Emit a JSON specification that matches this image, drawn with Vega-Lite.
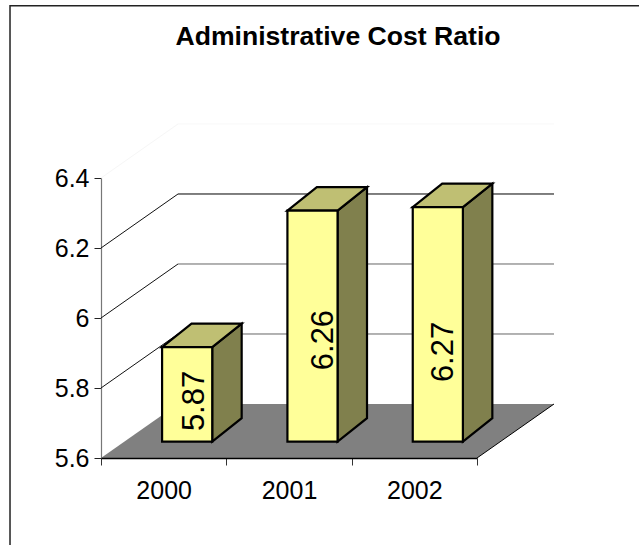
{
  "$schema": "https://vega.github.io/schema/vega-lite/v6.json",
  "width": 376,
  "height": 280,
  "padding": {"left": 101, "top": 178, "right": 162, "bottom": 87},
  "autosize": {"type": "none"},
  "background": "white",
  "title": {
    "text": "Administrative Cost Ratio",
    "anchor": "middle",
    "dx": 49,
    "offset": -67,
    "baseline": "alphabetic",
    "font": "Liberation Sans",
    "fontSize": 26.6,
    "fontWeight": "bold",
    "color": "#000"
  },
  "params": [
    {"name": "wallDX", "value": 0.6144},
    {"name": "wallDY", "value": 0.1543},
    {"name": "barDX", "value": 0.235},
    {"name": "barDY", "value": 0.0666},
    {"name": "inset", "value": 0.305}
  ],
  "config": {"view": {"stroke": null}, "axis": {"title": null, "grid": false}},
  "layer": [
    {
      "data": {"values": [{"edge": 1}]},
      "mark": {"type": "rect", "fillOpacity": 0, "stroke": "#222", "strokeWidth": 1.5},
      "encoding": {
        "x": {
          "datum": -0.726,
          "type": "quantitative",
          "scale": {"domain": [0, 3], "nice": false, "zero": false},
          "axis": {
            "title": null,
            "zindex": 1,
            "values": [0, 0.5, 1, 1.5, 2, 2.5, 3],
            "labelExpr": "datum.value % 1 === 0 ? '' : format(2000 + floor(datum.value), 'd')",
            "labelFont": "Liberation Sans",
            "labelFontSize": 25,
            "labelColor": "#000",
            "labelPadding": 13,
            "labelOverlap": false,
            "labelBound": false,
            "labelFlush": false,
            "grid": false,
            "tickSize": 7,
            "tickColor": "#333",
            "tickOpacity": {"condition": {"test": "datum.value % 1 === 0", "value": 1}, "value": 0},
            "domainColor": "#000",
            "domainWidth": 1.6
          }
        },
        "x2": {"datum": 6},
        "y": {
          "datum": 6.892,
          "type": "quantitative",
          "scale": {"domain": [5.6, 6.4], "nice": false, "zero": false},
          "axis": {
            "title": null,
            "values": [5.6, 5.8, 6, 6.2, 6.4],
            "format": "~g",
            "labelFont": "Liberation Sans",
            "labelFontSize": 25,
            "labelColor": "#000",
            "labelPadding": 5,
            "labelBound": false,
            "labelFlush": false,
            "grid": false,
            "tickSize": 7,
            "tickColor": "#222",
            "domainColor": "#777",
            "domainWidth": 1.2
          }
        },
        "y2": {"datum": 4}
      }
    },
    {
      "data": {"values": [{"depth": 0}, {"depth": 1}]},
      "transform": [
        {"calculate": "datum.depth * wallDX", "as": "x0"},
        {"calculate": "3 + datum.depth * wallDX", "as": "x1"},
        {"calculate": "5.6 + datum.depth * wallDY", "as": "yy"}
      ],
      "mark": {"type": "area", "orient": "horizontal", "color": "#808080"},
      "encoding": {
        "x": {"field": "x0", "type": "quantitative"},
        "x2": {"field": "x1"},
        "y": {"field": "yy", "type": "quantitative"}
      }
    },
    {
      "data": {"values": [{"tick": 5.8}, {"tick": 6}, {"tick": 6.2}, {"tick": 6.4}]},
      "transform": [
        {"calculate": "datum.tick + wallDY", "as": "backY"},
        {"calculate": "wallDX", "as": "backX"},
        {"calculate": "3 + wallDX", "as": "endX"},
        {"calculate": "0", "as": "startX"}
      ],
      "layer": [
        {
          "mark": {"type": "rule", "strokeWidth": 1},
          "encoding": {
            "x": {"field": "startX", "type": "quantitative"},
            "x2": {"field": "backX"},
            "y": {"field": "tick", "type": "quantitative"},
            "y2": {"field": "backY"},
            "stroke": {"condition": {"test": "datum.tick === 6.4", "value": "#f6f6f6"}, "value": "#111"}
          }
        },
        {
          "mark": {"type": "rule", "strokeWidth": 1},
          "encoding": {
            "x": {"field": "backX", "type": "quantitative"},
            "x2": {"field": "endX"},
            "y": {"field": "backY", "type": "quantitative"},
            "stroke": {"condition": [
              {"test": "datum.tick === 6.4", "value": "#f8f8f8"},
              {"test": "datum.tick === 6.2", "value": "#000"}
            ], "value": "#666"}
          }
        }
      ]
    },
    {
      "data": {"values": [{"edge": "right"}]},
      "transform": [
        {"calculate": "3 + wallDX", "as": "farX"},
        {"calculate": "5.6 + wallDY", "as": "farY"},
        {"calculate": "3", "as": "nearX"},
        {"calculate": "5.6", "as": "nearY"}
      ],
      "mark": {"type": "rule", "stroke": "#000", "strokeWidth": 1},
      "encoding": {
        "x": {"field": "nearX", "type": "quantitative"},
        "x2": {"field": "farX"},
        "y": {"field": "nearY", "type": "quantitative"},
        "y2": {"field": "farY"}
      }
    },
    {
      "data": {"values": [
        {"year": 2000, "value": 5.87},
        {"year": 2001, "value": 6.26},
        {"year": 2002, "value": 6.27}
      ]},
      "transform": [
        {"calculate": "datum.year - 2000 + 0.3 + inset * wallDX", "as": "left"},
        {"calculate": "datum.left + 0.4", "as": "right"},
        {"calculate": "5.6 + inset * wallDY", "as": "base"},
        {"calculate": "datum.base + datum.value - 5.6", "as": "top"},
        {"calculate": "{'2000': 0.75, '2001': 1.779, '2002': 2.737}[datum.year]", "as": "labelX"},
        {"calculate": "datum.value - {'2000': 0.107, '2001': 0.323, '2002': 0.367}[datum.year]", "as": "labelY"},
        {"calculate": "[0, 1]", "as": "corner"},
        {"flatten": ["corner"]},
        {"calculate": "datum.right + datum.corner * barDX", "as": "sideX"},
        {"calculate": "datum.base + datum.corner * barDY", "as": "sideLow"},
        {"calculate": "datum.top + datum.corner * barDY", "as": "sideHigh"},
        {"calculate": "datum.left + datum.corner * barDX", "as": "capLeft"}
      ],
      "layer": [
        {
          "mark": {"type": "area", "orient": "vertical", "fill": "#80804D", "stroke": "#000", "strokeWidth": 2.2, "strokeJoin": "miter"},
          "encoding": {
            "x": {"field": "sideX", "type": "quantitative"},
            "y": {"field": "sideLow", "type": "quantitative"},
            "y2": {"field": "sideHigh"},
            "detail": {"field": "year"}
          }
        },
        {
          "mark": {"type": "area", "orient": "horizontal", "fill": "#BFBF73", "stroke": "#000", "strokeWidth": 2.2, "strokeJoin": "miter"},
          "encoding": {
            "y": {"field": "sideHigh", "type": "quantitative"},
            "x": {"field": "capLeft", "type": "quantitative"},
            "x2": {"field": "sideX"},
            "detail": {"field": "year"}
          }
        },
        {
          "transform": [{"filter": "datum.corner === 0"}],
          "layer": [
            {
              "mark": {"type": "rect", "fill": "#FFFF99", "stroke": "#000", "strokeWidth": 2.2},
              "encoding": {
                "x": {"field": "left", "type": "quantitative"},
                "x2": {"field": "right"},
                "y": {"field": "base", "type": "quantitative"},
                "y2": {"field": "top"}
              }
            },
            {
              "mark": {"type": "text", "angle": 270, "align": "center", "baseline": "middle", "font": "Liberation Sans", "fontSize": 31, "color": "#000"},
              "encoding": {
                "x": {"field": "labelX", "type": "quantitative"},
                "y": {"field": "labelY", "type": "quantitative"},
                "text": {"field": "value", "type": "quantitative", "format": ".2f"}
              }
            }
          ]
        }
      ]
    }
  ]
}
